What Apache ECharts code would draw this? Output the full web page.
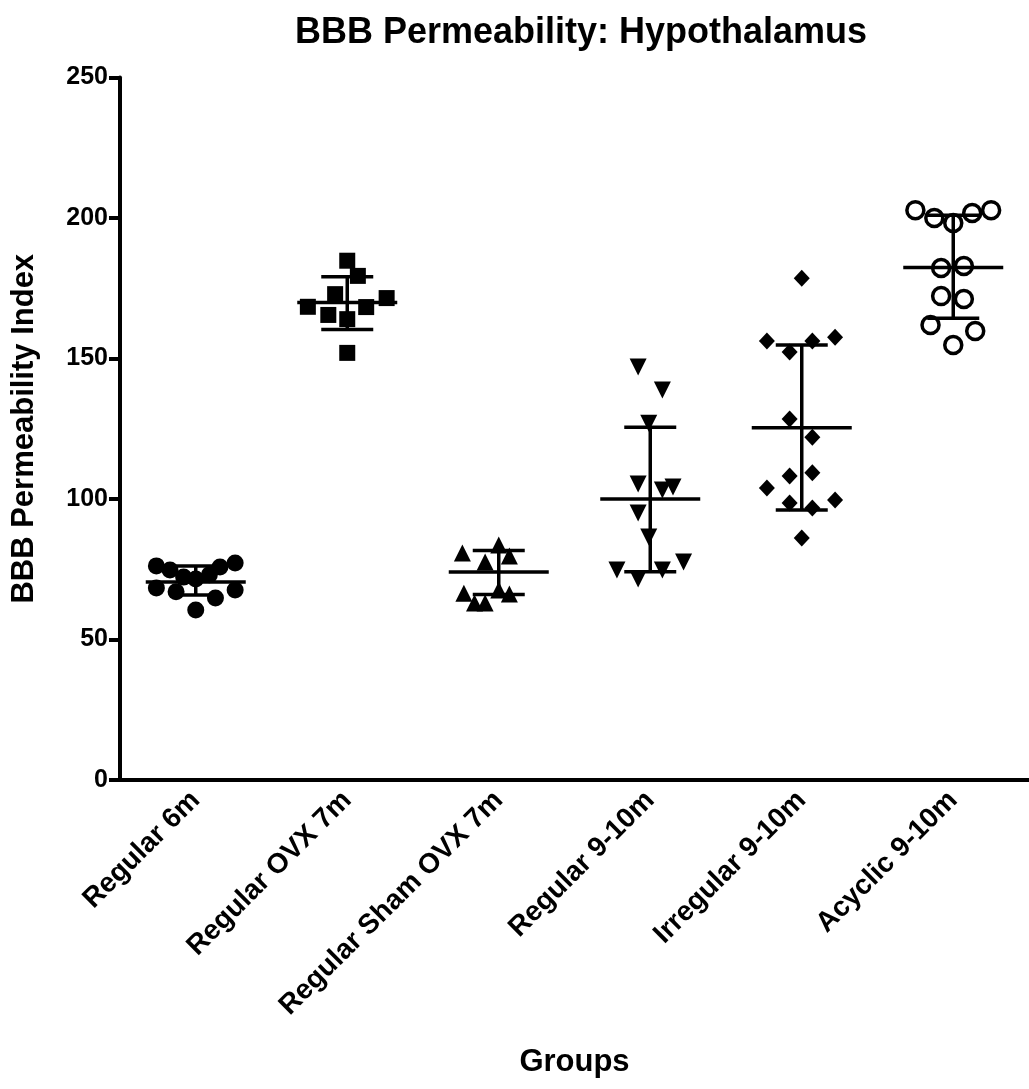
<!DOCTYPE html>
<html>
<head>
<meta charset="utf-8">
<script src="https://cdn.jsdelivr.net/npm/echarts@6/dist/echarts.min.js"></script>
<style>
html,body{margin:0;padding:0;background:#fff;}
#chart{width:1029px;height:1089px;}
</style>
</head>
<body>
<div id="chart"></div>
<script>
// Category labels
var groups = ['Regular 6m', 'Regular OVX 7m', 'Regular Sham OVX 7m', 'Regular 9-10m', 'Irregular 9-10m', 'Acyclic 9-10m'];
var yTicks = [0, 50, 100, 150, 200, 250];

// Individual points: [horizontal position in category units (jitter), value]
var regular6m = [[0.74,76.2],[0.83,74.7],[0.92,72.2],[1.0,71.5],[1.09,73.0],[1.16,75.8],[1.26,77.2],[0.74,68.3],[0.87,67.0],[1.13,64.8],[1.26,67.6],[1.0,60.5]];
var regularOVX7m = [[2.0,184.8],[2.07,179.4],[1.92,172.9],[1.74,168.4],[1.875,165.5],[2.125,168.3],[2.26,171.5],[2.0,164.0],[2.0,152.0]];
var regularSham7m = [[2.76,80.8],[3.0,83.6],[3.07,79.7],[2.91,77.6],[2.77,66.5],[3.07,66.2],[2.84,63.0],[2.91,63.0],[3.0,67.6]];
var regular910m = [[3.92,147.0],[4.08,138.8],[3.99,127.0],[3.92,105.3],[4.08,103.2],[4.15,104.3],[3.92,95.0],[3.99,86.5],[4.22,77.6],[3.78,74.7],[3.92,71.5],[4.08,74.7]];
var irregular910m = [[5.0,178.6],[4.77,156.2],[5.07,156.2],[5.22,157.6],[4.92,152.3],[4.92,128.5],[5.07,122.0],[4.92,108.2],[5.07,109.3],[4.77,103.9],[4.92,98.6],[5.07,96.8],[5.22,99.6],[5.0,86.1]];
var acyclic910m = [[5.75,202.8],[5.875,200.0],[6.0,198.2],[6.125,201.8],[6.25,202.8],[5.92,182.2],[6.07,182.9],[5.92,172.2],[6.07,171.2],[5.85,161.9],[6.145,159.8],[6.0,154.8]];

// Mean and SD bars
var means = [70.5, 169.9, 74.0, 100.0, 125.4, 182.4];
var sdLow = [65.8, 160.3, 66.0, 74.1, 96.1, 164.3];
var sdHigh = [76.2, 179.1, 81.7, 125.5, 154.8, 201.0];

var barData = groups.map(function (g, i) { return [i + 1, means[i], sdLow[i], sdHigh[i]]; });

var chart = echarts.init(document.getElementById('chart'), null, {renderer: 'canvas'});
var FONT = '"Liberation Sans", Arial, Helvetica, sans-serif';

function pts(name, data, symbol, extra) {
  return Object.assign({
    name: name, type: 'scatter', xAxisIndex: 1, yAxisIndex: 0,
    data: data, symbol: symbol, symbolSize: 17,
    itemStyle: {color: '#000', opacity: 1}, z: 3, silent: true
  }, extra || {});
}

chart.setOption({
  animation: false,
  backgroundColor: '#fff',
  title: {
    text: 'BBB Permeability: Hypothalamus',
    left: 576, top: 10, textAlign: 'center',
    textStyle: {fontFamily: FONT, fontWeight: 'bold', fontSize: 36, color: '#000'}
  },
  grid: {left: 120, right: 0, top: 77.5, bottom: 309, containLabel: false},
  xAxis: [{
    type: 'category', data: groups, boundaryGap: true,
    name: 'Groups', nameLocation: 'middle', nameGap: 267,
    nameTextStyle: {fontFamily: FONT, fontWeight: 'bold', fontSize: 31, color: '#000'},
    axisLine: {lineStyle: {color: '#000', width: 4}},
    axisTick: {alignWithLabel: true, length: 12, lineStyle: {color: '#000', width: 4}},
    axisLabel: {rotate: 45, margin: 16, fontFamily: FONT, fontWeight: 'bold', fontSize: 28, color: '#000'},
    splitLine: {show: false}
  }, {
    type: 'value', min: 0.5, max: 6.5, show: false
  }],
  yAxis: [{
    type: 'value', min: 0, max: 250, interval: 50,
    name: 'BBB Permeability Index', nameLocation: 'middle', nameGap: 80, nameRotate: 90,
    nameTextStyle: {fontFamily: FONT, fontWeight: 'bold', fontSize: 31, color: '#000'},
    axisLine: {show: true, lineStyle: {color: '#000', width: 4}},
    axisTick: {show: true, length: 11, lineStyle: {color: '#000', width: 4}},
    axisLabel: {margin: 12, fontFamily: FONT, fontWeight: 'bold', fontSize: 25, color: '#000',
      formatter: function (v) { return yTicks.indexOf(v) >= 0 ? String(v) : ''; }},
    splitLine: {show: false}
  }],
  series: [
    pts('Regular 6m', regular6m, 'circle'),
    pts('Regular OVX 7m', regularOVX7m, 'rect', {symbolSize: 16}),
    pts('Regular Sham OVX 7m', regularSham7m, 'triangle', {symbolSize: 17}),
    pts('Regular 9-10m', regular910m, 'triangle', {symbolSize: 17, symbolRotate: 180}),
    pts('Irregular 9-10m', irregular910m, 'diamond', {symbolSize: [16, 17]}),
    pts('Acyclic 9-10m', acyclic910m, 'circle', {symbolSize: 17,
      itemStyle: {color: '#fff', borderColor: '#000', borderWidth: 3.5, opacity: 1}}),
    {
      type: 'custom', xAxisIndex: 1, yAxisIndex: 0, z: 5, silent: true,
      data: barData,
      renderItem: function (params, api) {
        var x = api.value(0);
        var pm = api.coord([x, api.value(1)]);
        var pl = api.coord([x, api.value(2)]);
        var ph = api.coord([x, api.value(3)]);
        var st = {stroke: '#000', lineWidth: 3.5};
        return {
          type: 'group',
          children: [
            {type: 'line', shape: {x1: pm[0] - 50, y1: pm[1], x2: pm[0] + 50, y2: pm[1]}, style: st},
            {type: 'line', shape: {x1: pl[0], y1: pl[1], x2: ph[0], y2: ph[1]}, style: st},
            {type: 'line', shape: {x1: pl[0] - 26, y1: pl[1], x2: pl[0] + 26, y2: pl[1]}, style: st},
            {type: 'line', shape: {x1: ph[0] - 26, y1: ph[1], x2: ph[0] + 26, y2: ph[1]}, style: st}
          ]
        };
      }
    }
  ]
});
</script>
</body>
</html>
